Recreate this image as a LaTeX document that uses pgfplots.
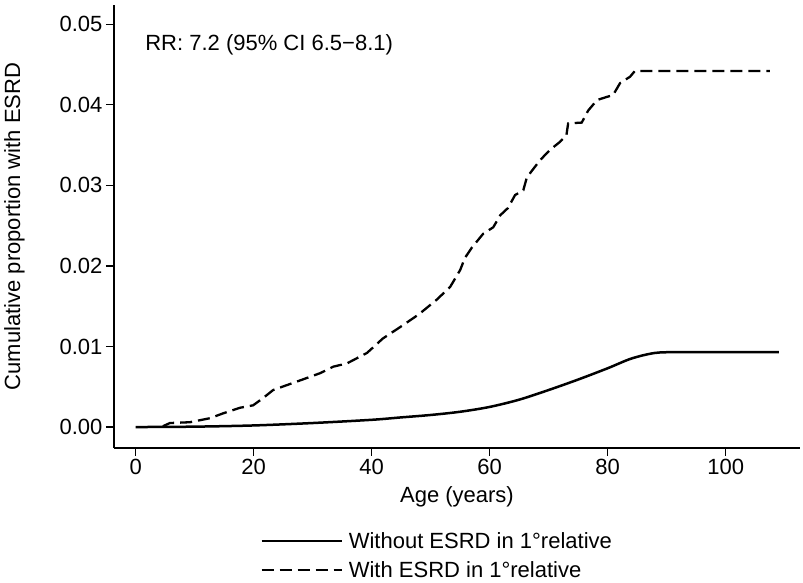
\documentclass[border=0pt]{standalone}
\usepackage{pgfplots}
\pgfplotsset{compat=1.18}
\usepackage{fontspec}
\setmainfont{Liberation Sans}
\begin{document}
\begin{tikzpicture}[x=1pt,y=1pt]
\path[use as bounding box] (0,0) rectangle (803,583);
\begin{axis}[
  at={(114pt,135pt)}, anchor=south west,
  scale only axis, width=686pt, height=443pt,
  xmin=-3.68, xmax=112.6, ymin=-0.0026, ymax=0.0524,
  axis x line=bottom, axis y line=left,
  axis line style={line width=1.4pt,-},
  tick align=outside, major tick length=8pt,
  tick style={line width=1.2pt,black},
  xtick={0,20,40,60,80,100},
  ytick={0,0.01,0.02,0.03,0.04,0.05},
  yticklabel style={/pgf/number format/fixed,/pgf/number format/precision=2,/pgf/number format/fixed zerofill},
  scaled y ticks=false,
  /pgf/number format/assume math mode=true,
  tick label style={font=\fontsize{22}{26}\selectfont},
  label style={font=\fontsize{22}{26}\selectfont},
  xlabel={Age (years)}, ylabel={Cumulative proportion with ESRD},
  xlabel style={yshift=-5pt},
  ylabel style={yshift=28pt},
  legend style={at={(0.213,-0.185)}, anchor=north west, draw=none, fill=none,
    font=\fontsize{22}{26}\selectfont, row sep=8pt, inner sep=0pt,
    nodes={inner xsep=6pt}},
  legend cell align=left,
  legend image code/.code={\draw[#1] (0pt,0pt) -- (80pt,0pt);},
  clip=false,
]
\addplot[black, line width=2.5pt, smooth] coordinates {
(0,0) (10,0.00005) (20,0.0002) (30,0.0005) (40,0.0009) (45,0.0012) (50,0.0015) (55,0.0019) (60,0.0025) (65,0.0034) (70,0.0046) (75,0.0059) (80,0.0073) (84,0.0085) (88,0.0092) (92,0.0093) (100,0.0093) (109,0.0093)
};
\addlegendentry{Without ESRD in 1°relative}
\addplot[black, line width=2.3pt, dash pattern=on 12pt off 6pt] coordinates {
(4.6,0.0001) (5.8,0.0005) (9.2,0.0006) (12.6,0.0011) (14.8,0.0017) (17.7,0.0024) (19.9,0.0027) (21.6,0.0036) (23.3,0.0046) (25.6,0.0052) (27.9,0.0058) (31.3,0.0067) (33.5,0.0075) (35.8,0.0079) (39.2,0.0092) (41.9,0.011) (45,0.0125) (48,0.014) (51,0.0158) (53.3,0.0174) (55,0.0195) (55.8,0.021) (57,0.0223) (58.9,0.024) (60.6,0.0248) (61.8,0.0263) (63.1,0.0272) (64.3,0.0288) (65.7,0.0294) (66.3,0.031) (68.5,0.0331) (70.2,0.0344) (71.9,0.0354) (73,0.0362) (73.3,0.0377) (75.6,0.0378) (76.7,0.0393) (78.2,0.0406) (79.9,0.041) (80.9,0.0412) (82.1,0.0427) (83.8,0.0435) (84.6,0.0442) (107.5,0.0442)
};
\addlegendentry{With ESRD in 1°relative}
\node[anchor=west, font=\fontsize{22}{26}\selectfont, inner sep=0pt] at (axis cs:1.6,0.0474) {RR: 7.2 (95\% CI 6.5−8.1)};
\end{axis}
\end{tikzpicture}
\end{document}
